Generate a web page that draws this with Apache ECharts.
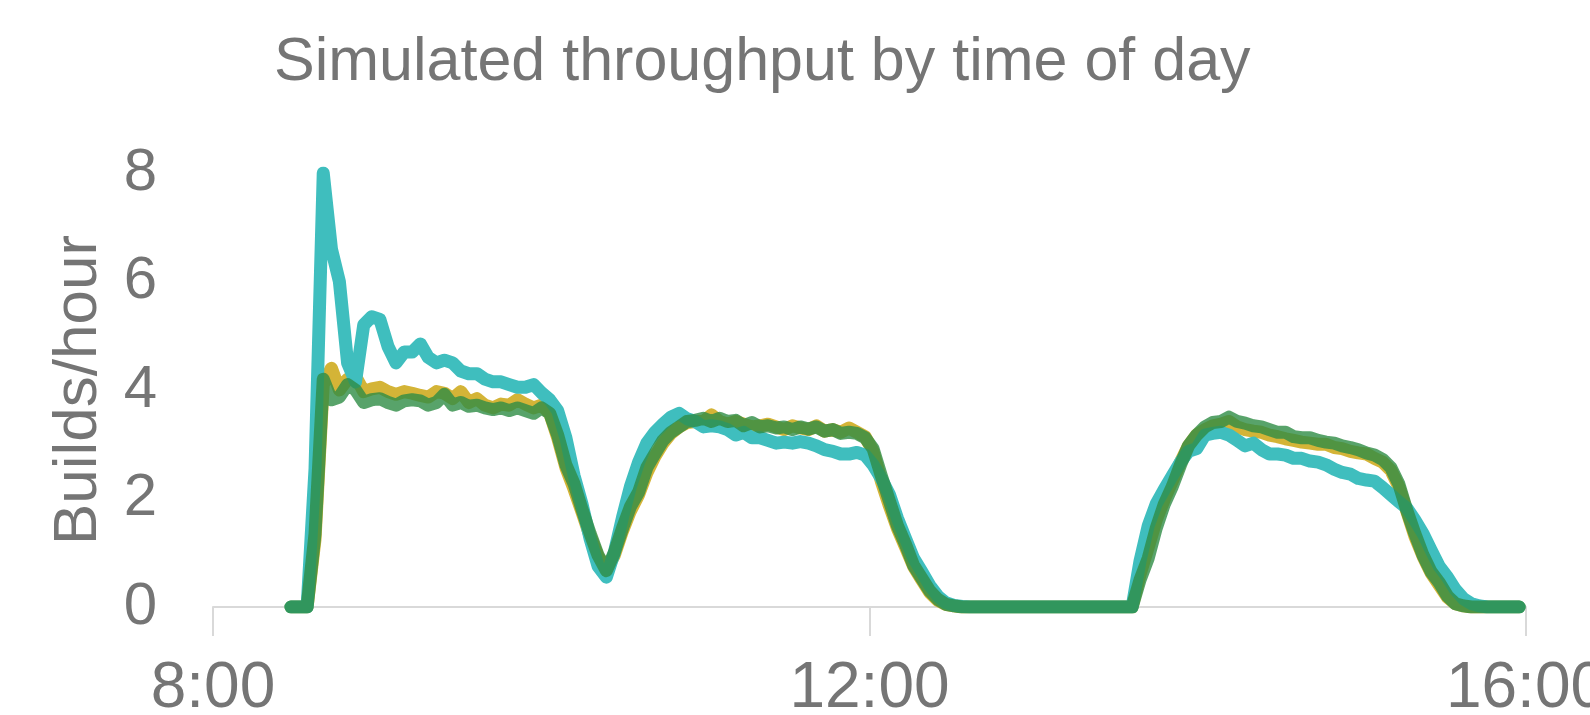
<!DOCTYPE html>
<html>
<head>
<meta charset="utf-8">
<script src="https://cdn.jsdelivr.net/npm/echarts@6/dist/echarts.min.js"></script>
<style>
html,body{margin:0;padding:0;background:#fff;overflow:hidden;}
#chart{width:1590px;height:715px;}
</style>
</head>
<body>
<div id="chart"></div>
<script>
// time of day, minutes after midnight
const times = [
 508.5,511.4,514.4,517.3,520.3,523.3,526.2,529.2,532.1,535.1,
 538.0,541.0,544.0,546.9,549.9,552.8,555.8,558.7,561.7,564.6,
 567.6,570.6,573.5,576.5,579.4,582.4,585.3,588.3,591.3,594.2,
 597.2,600.1,603.1,606.0,609.0,612.0,614.9,617.9,620.8,623.8,
 626.7,629.7,632.6,635.6,638.6,641.5,644.5,647.4,650.4,653.3,
 656.3,659.3,662.2,665.2,668.1,671.1,674.0,677.0,680.0,682.9,
 685.9,688.8,691.8,694.7,697.7,700.6,703.6,706.6,709.5,712.5,
 715.4,718.4,721.3,724.3,727.3,730.2,733.2,736.1,739.1,742.0,
 745.0,747.9,750.9,753.9,756.8,759.8,762.7,765.7,768.6,771.6,
 774.6,777.5,780.5,783.4,786.4,789.3,792.3,795.3,798.2,801.2,
 804.1,807.1,810.0,813.0,816.0,818.9,821.9,824.8,827.8,830.7,
 833.7,836.6,839.6,842.6,845.5,848.5,851.4,854.4,857.3,860.3,
 863.3,866.2,869.2,872.1,875.1,878.0,881.0,884.0,886.9,889.9,
 892.8,895.8,898.7,901.7,904.6,907.6,910.6,913.5,916.5,919.4,
 922.4,925.3,928.3,931.3,934.2,937.2,940.1,943.1,946.0,949.0,
 957.5
];
const tealSeries = [
 0,0,0,2.55,8.0,6.6,6.0,4.5,4.15,5.2,
 5.35,5.3,4.8,4.5,4.7,4.7,4.85,4.6,4.5,4.55,
 4.5,4.35,4.3,4.3,4.2,4.15,4.15,4.1,4.05,4.05,
 4.1,3.95,3.82,3.62,3.12,2.42,1.9,1.25,0.75,0.55,
 1.0,1.65,2.22,2.67,3.02,3.22,3.37,3.5,3.57,3.47,
 3.42,3.32,3.34,3.32,3.27,3.17,3.22,3.12,3.12,3.07,
 3.02,3.04,3.02,3.05,3.02,2.97,2.9,2.87,2.82,2.82,
 2.85,2.8,2.62,2.37,2.07,1.64,1.26,0.9,0.65,0.4,
 0.2,0.08,0.03,0.01,0,0,0,0,0,0,
 0,0,0,0,0,0,0,0,0,0,
 0,0,0,0,0,0.85,1.5,1.9,2.17,2.42,
 2.67,2.87,2.92,3.17,3.2,3.22,3.17,3.07,2.97,3.02,
 2.9,2.82,2.82,2.8,2.74,2.74,2.69,2.67,2.62,2.54,
 2.48,2.45,2.37,2.34,2.32,2.2,2.07,1.94,1.82,1.6,
 1.35,1.05,0.75,0.55,0.32,0.15,0.06,0.02,0,0,
 0
];
const goldSeries = [
 0,0,0,1.25,4.1,4.4,4.0,4.2,4.25,3.97,
 4.02,4.05,3.97,3.92,3.97,3.94,3.9,3.87,3.97,3.94,
 3.84,3.97,3.77,3.84,3.72,3.67,3.74,3.72,3.82,3.74,
 3.67,3.72,3.57,3.12,2.57,2.17,1.75,1.3,0.93,0.7,
 0.95,1.4,1.77,2.07,2.47,2.77,3.02,3.2,3.32,3.4,
 3.42,3.42,3.54,3.42,3.37,3.42,3.37,3.32,3.34,3.37,
 3.32,3.27,3.34,3.3,3.27,3.34,3.24,3.27,3.22,3.3,
 3.22,3.14,2.87,2.32,1.86,1.45,1.1,0.75,0.5,0.27,
 0.12,0.05,0.02,0,0,0,0,0,0,0,
 0,0,0,0,0,0,0,0,0,0,
 0,0,0,0,0,0.6,1.1,1.6,1.99,2.32,
 2.67,2.97,3.17,3.27,3.34,3.37,3.42,3.32,3.27,3.24,
 3.22,3.17,3.14,3.1,3.07,3.04,3.02,3.0,3.0,2.94,
 2.92,2.87,2.84,2.82,2.74,2.67,2.52,2.22,1.75,1.3,
 0.93,0.63,0.4,0.18,0.06,0.02,0,0,0,0,
 0
];
const greenSeries = [
 0,0,0,1.35,4.2,3.82,3.87,4.1,4.0,3.77,
 3.82,3.84,3.77,3.72,3.8,3.82,3.8,3.72,3.77,3.92,
 3.72,3.77,3.7,3.72,3.67,3.64,3.67,3.62,3.67,3.62,
 3.57,3.67,3.57,3.17,2.62,2.27,1.8,1.35,0.95,0.67,
 1.0,1.45,1.85,2.12,2.57,2.82,3.07,3.22,3.32,3.42,
 3.44,3.48,3.42,3.48,3.42,3.44,3.34,3.4,3.32,3.34,
 3.3,3.32,3.27,3.32,3.28,3.32,3.24,3.27,3.2,3.22,
 3.2,3.12,2.92,2.42,1.95,1.5,1.15,0.77,0.53,0.3,
 0.14,0.05,0.02,0,0,0,0,0,0,0,
 0,0,0,0,0,0,0,0,0,0,
 0,0,0,0,0,0.5,0.9,1.45,1.9,2.22,
 2.62,2.97,3.17,3.32,3.4,3.42,3.5,3.42,3.39,3.34,
 3.32,3.27,3.22,3.22,3.14,3.12,3.12,3.07,3.04,3.02,
 2.97,2.94,2.9,2.84,2.8,2.72,2.57,2.27,1.77,1.35,
 0.95,0.65,0.45,0.2,0.06,0.02,0,0,0,0,
 0
];
const titleText = 'Simulated throughput by time of day';
const yName = 'Builds/hour';
const xMin = 480, xMax = 960, xStep = 240;
const yMin = 0, yMax = 8, yStep = 2;

const pair = vals => times.map((t, i) => [t, vals[i]]);
const font = 'Liberation Sans';
const txt = '#757575';

const chart = echarts.init(document.getElementById('chart'), null, {renderer: 'canvas'});
chart.setOption({
  animation: false,
  backgroundColor: '#ffffff',
  title: {
    text: titleText, left: 269, top: 28,
    textStyle: {fontFamily: font, fontSize: 61, fontWeight: 'normal', color: txt}
  },
  grid: {left: 213, right: 64, top: 173, bottom: 108, containLabel: false, outerBoundsMode: 'none'},
  xAxis: {
    type: 'value', min: xMin, max: xMax, interval: xStep,
    axisLine: {show: true, lineStyle: {color: '#d9d9d9', width: 2}},
    axisTick: {show: true, length: 29, lineStyle: {color: '#d9d9d9', width: 2}},
    splitLine: {show: false},
    axisLabel: {
      fontFamily: font, fontSize: 64, color: txt, margin: 50,
      formatter: v => Math.floor(v / 60) + ':00'
    }
  },
  yAxis: {
    type: 'value', min: yMin, max: yMax, interval: yStep,
    name: yName, nameLocation: 'middle', nameGap: 103,
    nameTextStyle: {fontFamily: font, fontSize: 62, color: txt},
    axisLine: {show: false}, axisTick: {show: false}, splitLine: {show: false},
    axisLabel: {fontFamily: font, fontSize: 60, color: txt, margin: 56}
  },
  series: [
    {name: 'B', type: 'line', data: pair(goldSeries), showSymbol: false, clip: true,
     lineStyle: {color: '#d2b02c', width: 13, opacity: 0.95, join: 'round', cap: 'round'}, z: 2},
    {name: 'A', type: 'line', data: pair(tealSeries), showSymbol: false, clip: true,
     lineStyle: {color: '#3fbebe', width: 13, opacity: 1, join: 'round', cap: 'round'}, z: 3},
    {name: 'C', type: 'line', data: pair(greenSeries), showSymbol: false, clip: true,
     lineStyle: {color: '#2e8c45', width: 13, opacity: 0.8, join: 'round', cap: 'round'}, z: 4}
  ]
});
</script>
</body>
</html>
